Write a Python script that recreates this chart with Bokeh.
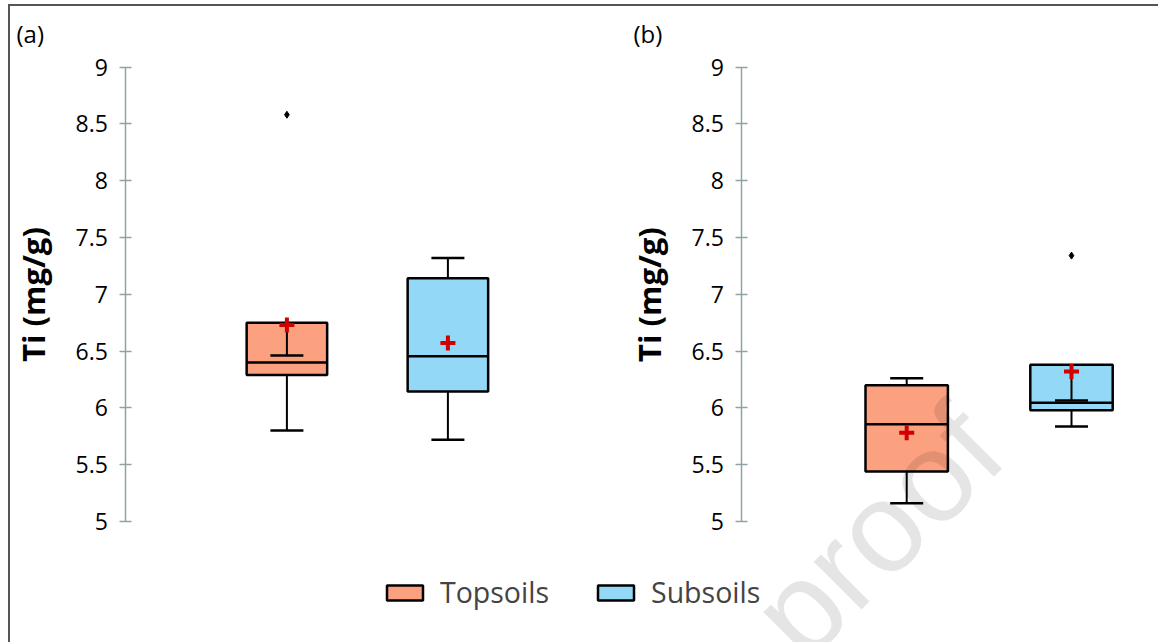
from bokeh.plotting import figure
from bokeh.models import (ColumnDataSource, Range1d, Legend, LegendItem, Label,
                          FixedTicker, LinearAxis)
from bokeh.layouts import row
from bokeh.embed import file_html
from bokeh.resources import INLINE

# ---------------- data ----------------
categories = ["Topsoils", "Subsoils"]
colors = ["#FBA17F", "#93D9F7"]

# panel (a)
a_q1 = [6.29, 6.145]
a_median = [6.40, 6.455]
a_q3 = [6.75, 7.14]
a_low = [5.80, 5.72]
a_high = [6.46, 7.32]
a_mean = [6.73, 6.57]
a_out_cat = ["Topsoils"]
a_out_val = [8.58]

# panel (b)
b_q1 = [5.44, 5.98]
b_median = [5.855, 6.045]
b_q3 = [6.20, 6.38]
b_low = [5.16, 5.835]
b_high = [6.26, 6.065]
b_mean = [5.78, 6.32]
b_out_cat = ["Subsoils"]
b_out_val = [7.34]

y_ticks = [5, 5.5, 6, 6.5, 7, 7.5, 8, 8.5, 9]
y_tick_labels = ["5", "5.5", "6", "6.5", "7", "7.5", "8", "8.5", "9"]
y_label = "Ti (mg/g)"
panel_letters = ["(a)", "(b)"]

# ---------------- layout constants (pixels) ----------------
FONT = "Open Sans"
AXIS_COLOR = "#8FA3A6"
BOX_W = 0.5
W, H = 1148, 636          # canvas size (inside the page frame)
OX, OY = 10, 6            # canvas origin in the page
AX_A, AX_B = 125.4, 741.4  # page x of the two y axes
U_A, U_B = 161.0, 164.8    # px per category step
Y5, PXY = 521.0, 113.625   # page y of value 5, px per unit

x_start_a = -(AX_A - OX) / U_A
x_start_b = -(AX_B - OX) / U_B
p = figure(width=W, height=H,
           x_range=Range1d(x_start_a, x_start_a + W / U_A),
           y_range=Range1d(5 - (OY + H - Y5) / PXY, 5 + (Y5 - OY) / PXY),
           x_axis_location=None, y_axis_location=None,
           output_backend="svg", toolbar_location=None, min_border=0)
p.extra_x_ranges = {"b": Range1d(x_start_b, x_start_b + W / U_B)}
p.outline_line_color = None
p.xgrid.visible = False
p.ygrid.visible = False
p.background_fill_color = "white"
p.border_fill_color = "white"


def add_axis(range_name):
    ax = LinearAxis(fixed_location=0, x_range_name=range_name, bounds=(5, 9))
    ax.ticker = FixedTicker(ticks=y_ticks)
    ax.major_label_overrides = {t: s for t, s in zip(y_ticks, y_tick_labels)}
    ax.axis_line_color = AXIS_COLOR
    ax.axis_line_width = 1.5
    ax.major_tick_line_color = AXIS_COLOR
    ax.major_tick_line_width = 1.5
    ax.major_tick_in = 6
    ax.major_tick_out = 6
    ax.minor_tick_line_color = None
    ax.major_label_text_font = FONT
    ax.major_label_text_font_size = "23px"
    ax.major_label_text_color = "black"
    ax.major_label_standoff = 12
    ax.axis_label = y_label
    ax.axis_label_text_font = FONT
    ax.axis_label_text_font_size = "31px"
    ax.axis_label_text_font_style = "bold"
    ax.axis_label_text_color = "black"
    ax.axis_label_standoff = 18
    p.add_layout(ax, "left")


def add_panel(q1, med, q3, low, high, mean, out_cat, out_val, range_name):
    xs = [i + 1 for i in range(len(categories))]
    src = ColumnDataSource(dict(
        x=xs, xl=[x - BOX_W / 2 for x in xs], xr=[x + BOX_W / 2 for x in xs],
        q1=q1, med=med, q3=q3, low=low, high=high, mean=mean, color=colors))
    out_src = ColumnDataSource(dict(
        x=[categories.index(c) + 1 for c in out_cat], y=out_val))
    kw = dict(x_range_name=range_name)
    boxes = p.vbar(x="x", width=BOX_W, bottom="q1", top="q3", source=src,
                   fill_color="color", line_color="black", line_width=2.5, **kw)
    p.segment(x0="xl", y0="med", x1="xr", y1="med", source=src,
              line_color="black", line_width=2.5, **kw)
    p.segment(x0="x", y0="q3", x1="x", y1="high", source=src,
              line_color="black", line_width=2, **kw)
    p.segment(x0="x", y0="q1", x1="x", y1="low", source=src,
              line_color="black", line_width=2, **kw)
    p.scatter(x="x", y="high", source=src, marker="dash", size=33,
              line_color="black", line_width=2.5, **kw)
    p.scatter(x="x", y="low", source=src, marker="dash", size=33,
              line_color="black", line_width=2.5, **kw)
    p.scatter(x="x", y="mean", source=src, marker="cross", size=15,
              line_color="#D00000", line_width=4, **kw)
    p.scatter(x="x", y="y", source=out_src, marker="diamond", size=7,
              fill_color="black", line_color="black", **kw)
    add_axis(range_name)
    return boxes


box_a = add_panel(a_q1, a_median, a_q3, a_low, a_high, a_mean,
                  a_out_cat, a_out_val, "default")
box_b = add_panel(b_q1, b_median, b_q3, b_low, b_high, b_mean,
                  b_out_cat, b_out_val, "b")

# panel letters
for letter, px in zip(panel_letters, [16.0, 633.0]):
    p.add_layout(Label(x=px - OX, y=OY + H - 33, x_units="screen",
                       y_units="screen", text=letter, text_font=FONT,
                       text_font_size="24px", text_baseline="alphabetic",
                       text_color="black"))

# legend (one entry under each panel)
for idx, (rend, px) in enumerate([(box_a, 382.0), (box_b, 593.0)]):
    leg = Legend(items=[LegendItem(label=categories[idx], renderers=[rend],
                                   index=idx)],
                 location=(px - OX, OY + H - 611), orientation="horizontal",
                 glyph_width=45, glyph_height=19, label_height=19,
                 label_text_font=FONT, label_text_font_size="28.5px",
                 label_text_baseline="middle",
                 label_standoff=13, padding=0, margin=0, spacing=0,
                 border_line_color=None, background_fill_alpha=0)
    p.add_layout(leg)

# watermark of the source page
p.add_layout(Label(x=773 - OX, y=OY + H - 634, x_units="screen",
                   y_units="screen", text="proof", text_font="Liberation Sans",
                   text_font_size="128px", angle=45, angle_units="deg",
                   text_color="black", text_alpha=0.1,
                   text_baseline="alphabetic"))

layout = row(p, margin=(4, 0, 0, 8),
             styles={"border-top": "2px solid #555555",
                     "border-left": "2px solid #555555"})

open("out.html", "w").write(file_html(layout, INLINE))
